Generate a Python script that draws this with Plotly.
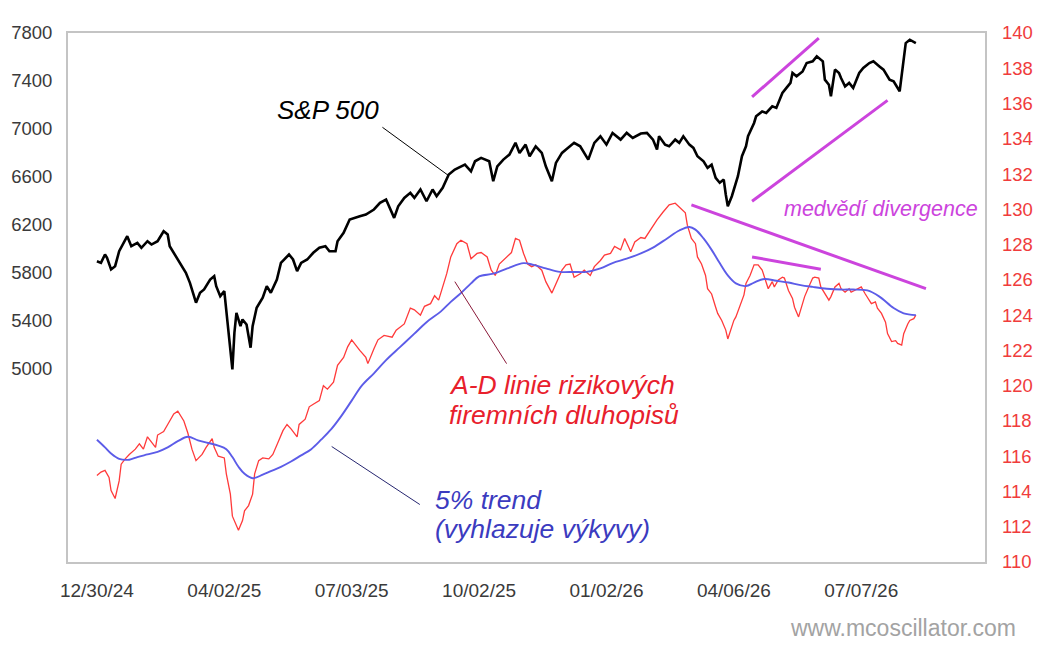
import plotly.graph_objects as go

# ---------------- data ----------------
# x = trading-day index since 12/30/24
sp_idx = [0,2,4,5,7,9,11,15,17,20,22,25,27,30,33,35,36,39,41,44,46,48,49,51,53,56,58,59,61,63,
          64,66,67,68,69,71,72,74,76,77,79,82,84,86,89,91,95,97,99,101,104,107,110,113,115,118,119,122,125,130,
          133,137,140,143,147,149,152,155,157,160,163,166,168,171,174,177,180,182,185,187,190,194,196,198,201,204,207,209,212,214,
          217,220,222,225,227,230,232,236,239,243,246,249,252,255,259,262,265,269,272,275,277,278,281,283,286,288,290,293,295,297,
          300,302,304,306,308,310,311,312,314,316,317,319,321,322,325,326,329,331,334,336,339,341,343,344,346,349,351,354,356,359,
          360,362,363,365,367,368,370,372,374,377,379,382,384,387,389,392,394,397,398,400,402,405]
sp_val = [5893,5879,5949,5921,5824,5851,5976,6102,6018,6046,6005,6060,6032,6060,6143,6116,6018,5935,5879,5796,5712,5587,5546,5629,5657,5740,5768,5684,5601,5643,
          5490,5156,4989,5295,5462,5350,5406,5364,5170,5350,5504,5587,5684,5629,5740,5879,5949,5907,5810,5879,5907,5963,6005,6018,5976,5976,6060,6130,6241,6269,
          6283,6325,6380,6408,6255,6352,6422,6464,6422,6492,6394,6492,6436,6506,6617,6659,6686,6700,6644,6728,6756,6728,6561,6686,6742,6784,6882,6798,6867,6770,
          6853,6798,6686,6561,6714,6798,6826,6882,6853,6742,6882,6937,6867,6965,6909,6965,6923,6960,6965,6909,6826,6937,6867,6853,6909,6882,6937,6867,6840,6770,
          6728,6673,6700,6589,6548,6575,6450,6352,6436,6548,6603,6770,6853,6937,7048,7104,7145,7132,7187,7174,7299,7341,7383,7466,7438,7479,7549,7563,7605,7563,
          7410,7368,7271,7494,7466,7424,7354,7383,7341,7466,7508,7549,7563,7521,7494,7410,7396,7313,7466,7716,7744,7716]

ad_idx = [0,2,4,6,7,9,11,12,14,16,19,21,23,25,27,29,30,33,35,38,40,43,45,47,49,52,54,57,58,60,
          63,64,66,67,70,72,73,75,77,78,80,82,85,87,90,92,94,96,99,100,103,105,107,110,112,114,117,119,122,124,
          126,129,130,133,134,137,139,142,146,148,152,155,157,160,162,165,167,169,171,173,175,178,180,183,185,188,190,193,195,197,
          199,203,205,207,209,211,213,215,217,220,222,225,227,230,232,234,236,239,241,244,246,249,251,254,256,259,261,264,266,269,
          271,274,277,280,283,286,288,291,292,294,296,297,299,301,302,304,306,307,309,311,312,313,315,316,318,320,321,323,325,327,
          329,330,332,334,335,337,339,340,342,344,345,347,349,350,352,354,355,357,358,360,362,363,365,367,368,370,372,373,376,378,
          380,382,383,385,386,388,390,391,393,395,396,398,399,401,402,404,405]
ad_val = [114.9,115.1,115.2,114.8,114.05,113.6,114.6,115.55,115.85,116.1,116.4,116.7,116.4,117.1,116.8,116.5,117.2,117.4,117.8,118.4,118.55,118.0,117.3,116.4,115.75,116.1,116.5,117.0,116.5,116.0,
          115.9,115.0,113.85,112.6,111.8,112.35,112.9,113.2,113.85,115.0,115.75,115.9,115.85,116.1,116.9,117.45,117.8,117.55,117.1,117.8,118.1,118.8,118.95,119.15,120.0,119.8,120.2,121.15,121.6,122.2,
          122.6,122.1,122.0,121.6,121.25,122.1,122.6,122.85,122.75,123.15,123.5,124.4,124.3,124.0,124.5,124.65,125.1,124.85,125.6,126.35,127.3,128.05,128.25,128.05,127.2,127.5,127.55,127.3,126.55,126.25,
          126.9,127.3,127.55,128.35,128.25,127.5,126.9,126.75,126.85,126.55,125.9,125.25,125.8,126.55,126.85,126.9,126.15,126.35,126.55,126.25,126.75,127.1,127.4,127.5,127.9,127.7,128.35,127.6,128.15,128.4,
          128.35,128.9,129.4,129.85,130.25,130.35,130.15,129.8,129.1,128.35,128.05,127.3,126.9,126.25,125.5,125.2,124.45,124.1,123.7,123.15,122.65,123.05,123.7,123.9,124.55,125.15,125.8,126.25,126.85,126.85,
          126.55,126.15,125.5,125.9,125.6,126.0,126.15,126.1,125.4,124.95,124.45,123.9,124.65,125.05,125.6,126.1,126.15,126.1,125.6,125.2,124.85,125.05,125.6,125.8,125.5,125.3,125.5,125.3,125.5,125.6,
          125.2,124.85,124.65,124.75,124.4,124.1,123.6,122.95,122.5,122.55,122.4,122.3,122.95,123.5,123.7,123.8,124.0]

trend_idx = [0,4,7,11,16,20,25,30,35,40,45,50,55,60,64,67,70,73,77,82,86,91,96,101,106,111,116,121,126,131,
             137,143,150,157,163,170,175,180,185,189,196,203,211,216,222,229,236,242,249,255,262,269,275,282,288,293,296,300,304,308,
             312,316,321,325,330,336,342,348,354,361,368,374,381,387,394,399,405]
trend_val = [116.93,116.5,116.15,115.85,115.8,115.95,116.1,116.25,116.5,116.85,117.1,116.9,116.75,116.6,116.4,115.95,115.4,115.0,114.75,114.95,115.15,115.4,115.7,116.05,116.4,116.95,117.55,118.3,119.15,120.0,
             120.7,121.45,122.2,122.95,123.6,124.2,124.75,125.25,125.8,126.2,126.35,126.65,126.95,126.85,126.65,126.45,126.45,126.45,126.65,126.95,127.2,127.5,127.83,128.35,128.8,129.0,128.85,128.35,127.7,126.95,
             126.25,125.8,125.65,125.85,126.05,125.95,125.85,125.7,125.6,125.5,125.45,125.45,125.4,125.05,124.4,124.1,124.0]

x_tick_idx = [0, 63, 126, 189, 252, 315, 378]
x_tick_labels = ["12/30/24", "04/02/25", "07/03/25", "10/02/25", "01/02/26", "04/06/26", "07/07/26"]
left_ticks = [5000, 5400, 5800, 6200, 6600, 7000, 7400, 7800]
right_ticks = [110, 112, 114, 116, 118, 120, 122, 124, 126, 128, 130, 132, 134, 136, 138, 140]

# divergence lines: (x0, y0, x1, y1, axis)
divergence_lines = [
    (324, 7266, 357, 7758, "y"),
    (324, 6394, 391, 7237, "y"),
    (294, 130.25, 410, 125.5, "y2"),
    (324, 127.3, 358, 126.6, "y2"),
]
# label connectors: (x0, y0, x1, y1, axis, color)
connectors = [
    (141.2, 7012, 173.7, 6611, "y", "#000000"),
    (177.0, 125.9, 202.6, 121.25, "y2", "#8a1838"),
    (116.1, 116.55, 159.7, 113.26, "y2", "#262670"),
]

# ---------------- figure ----------------
OFF = 8                      # page body margin
W, H = 1047 - 2 * OFF, 654 - 2 * OFF
L, R, T, B = 68, 985, 33, 562   # plot area in page pixels

def px(x):
    return (x - L) / (R - L)

def py(y):
    return 1 - (y - T) / (B - T)

FONT = "Liberation Sans, Arial, sans-serif"

fig = go.Figure()
fig.add_trace(go.Scatter(x=ad_idx, y=ad_val, yaxis="y2", mode="lines",
                         line=dict(color="#ff3a3a", width=1.3), hoverinfo="skip"))
fig.add_trace(go.Scatter(x=trend_idx, y=trend_val, yaxis="y2", mode="lines",
                         line=dict(color="#5c5ce8", width=1.9, shape="spline"), hoverinfo="skip"))
fig.add_trace(go.Scatter(x=sp_idx, y=sp_val, yaxis="y", mode="lines",
                         line=dict(color="#000000", width=2.6), hoverinfo="skip"))

shapes = []
for x0, y0, x1, y1, ax in divergence_lines:
    shapes.append(dict(type="line", xref="x", yref=ax, x0=x0, y0=y0, x1=x1, y1=y1,
                       line=dict(color="#cc44dd", width=3)))
for x0, y0, x1, y1, ax, c in connectors:
    shapes.append(dict(type="line", xref="x", yref=ax, x0=x0, y0=y0, x1=x1, y1=y1,
                       line=dict(color=c, width=1)))

RED_T, BLUE_T, MAG = "#e8202c", "#3b3bbf", "#cc44dd"
annotations = [
    dict(text="<i>S&P 500</i>", x=px(275), y=py(110), size=26, color="#000000"),
    dict(text="<i>A-D linie rizikových</i>", x=px(447), y=py(385), size=26.5, color=RED_T),
    dict(text="<i>firemních dluhopisů</i>", x=px(447), y=py(415), size=26.5, color=RED_T),
    dict(text="<i>5% trend</i>", x=px(433), y=py(500), size=26.5, color=BLUE_T),
    dict(text="<i>(vyhlazuje výkyvy)</i>", x=px(433), y=py(529), size=26.5, color=BLUE_T),
    dict(text="<i>medvědí divergence</i>", x=px(782), y=py(209), size=21.5, color=MAG),
    dict(text="www.mcoscillator.com", x=px(788), y=py(628), size=23, color="#a3a3a3"),
]
for a in annotations:
    s, c = a.pop("size"), a.pop("color")
    a.update(xref="paper", yref="paper", showarrow=False, xanchor="left", yanchor="middle",
             font=dict(size=s, color=c, family=FONT))

fig.update_layout(
    width=W, height=H,
    margin=dict(l=L - OFF, r=W - (R - OFF), t=T - OFF, b=H - (B - OFF), pad=0, autoexpand=False),
    paper_bgcolor="white", plot_bgcolor="white",
    showlegend=False,
    font=dict(family=FONT),
    xaxis=dict(range=[-14.3, 439.2], tickvals=x_tick_idx, ticktext=x_tick_labels, automargin=False,
               showgrid=False, zeroline=False, showline=True, linecolor="#c4c4c4", linewidth=2,
               mirror=True, ticks="", ticklabelstandoff=10,
               tickfont=dict(size=19, color="#3a3a3a", family=FONT)),
    yaxis=dict(range=[3379, 7800], tickvals=left_ticks, showgrid=False, zeroline=False, automargin=False,
               showline=True, linecolor="#c4c4c4", linewidth=2, mirror=True, ticks="",
               ticklabelstandoff=10, tickfont=dict(size=18.5, color="#3a3a3a", family=FONT)),
    yaxis2=dict(range=[110, 140], tickvals=right_ticks, overlaying="y", side="right", automargin=False,
                showgrid=False, zeroline=False, showline=False, ticks="",
                ticklabelstandoff=16, tickfont=dict(size=18.5, color="#f03c3c", family=FONT)),
    shapes=shapes,
    annotations=annotations,
)

fig.write_html("out.html")
